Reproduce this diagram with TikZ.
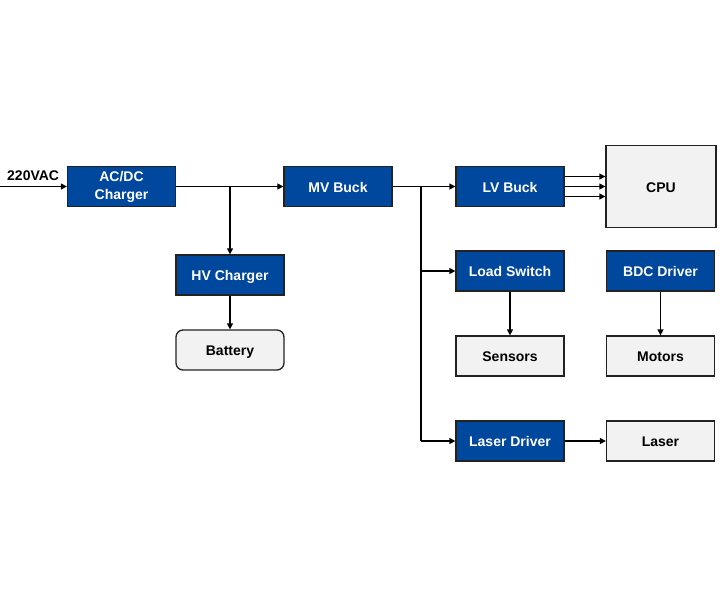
\documentclass[tikz,border=0pt]{standalone}
\usepackage{fontspec}
\setmainfont{Liberation Sans}
\usepackage{tikz}
\usetikzlibrary{arrows.meta, positioning, calc}
\definecolor{driveblue}{RGB}{0, 71, 158}
\definecolor{loadgray}{RGB}{242, 242, 242}
\definecolor{edgedark}{RGB}{34, 34, 34}

\tikzset{
  boxbase/.style={rectangle, draw=edgedark, line width=1.3pt, font=\fontsize{14}{18}\selectfont\bfseries, minimum width=108pt, minimum height=40pt, align=center, inner sep=1pt},
  bluetwo/.style={boxbase, fill=driveblue, text=white},
  bluebox/.style={bluetwo, text height=11pt, text depth=0pt},
  graybox/.style={boxbase, fill=loadgray, text=black, text height=11pt, text depth=0pt},
  wire/.style={line width=1.3pt, -{Triangle[length=6pt, width=6pt]}}
}

\begin{document}
\begin{tikzpicture}[x=1pt, y=-1pt]
        \useasboundingbox (0,0) rectangle (720,600);
        % supply side
        \coordinate (ac) at (0,186.5);
        \node[bluetwo] (acdc) at (121.5,186.5) {AC/DC\\Charger};
        \node[bluebox] (mvbuck) at (338,186.5) {MV Buck};
        \node[bluebox] (hvchg) at (230,275) {HV Charger};
        \node[graybox, rounded corners=7pt] (batt) at (230,350) {Battery};
        \node[font=\fontsize{14}{16}\selectfont\bfseries, anchor=south west, inner sep=0pt] (vac) at (7,181) {220VAC};
        \draw[wire] (ac) -- (acdc);
        \draw[wire] (acdc) -- (mvbuck);
        \draw[wire] (acdc.east -| hvchg) -- (hvchg);
        \draw[wire] (hvchg) -- (batt);
        % load side
        \node[bluebox] (lvbuck) at (510,186.5) {LV Buck};
        \node[graybox, minimum width=110pt, minimum height=82pt] (cpu) at (661,186.5) {CPU};
        \node[bluebox] (loadsw) at (510,271) {Load Switch};
        \node[bluebox] (bdc) at (660.5,271) {BDC Driver};
        \node[graybox] (sensors) at (510,356) {Sensors};
        \node[graybox] (motors) at (660.5,356) {Motors};
        \node[bluebox] (laserdrv) at (510,441) {Laser Driver};
        \node[graybox] (laser) at (660.5,441) {Laser};
        \coordinate (tap) at (421,186.5);
        \draw[wire] (mvbuck) -- (lvbuck);
        \draw[line width=1.3pt] (tap) -- (tap |- laserdrv);
        \draw[wire] (tap |- loadsw) -- (loadsw);
        \draw[wire] (tap |- laserdrv) -- (laserdrv);
        \foreach \dy in {-10,0,10}
          \draw[wire] ($(lvbuck.east)+(0,\dy)$) -- ($(cpu.west)+(0,\dy)$);
        \draw[wire] (loadsw) -- (sensors);
        \draw[wire] (bdc) -- (motors);
        \draw[wire] (laserdrv) -- (laser);
    \end{tikzpicture}
\end{document}
